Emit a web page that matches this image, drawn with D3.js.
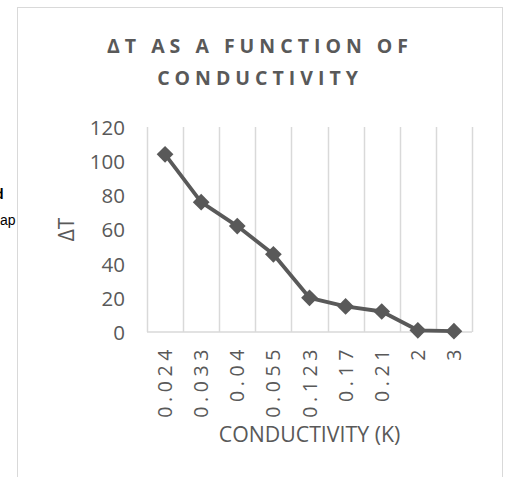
<!DOCTYPE html>
<html><head><meta charset="utf-8">
<script src="https://cdn.jsdelivr.net/npm/d3@7"></script>
<style>
html,body{margin:0;padding:0;background:#fff;}
svg{display:block;font-family:"Open Sans",sans-serif;}
</style></head>
<body>
<svg id="c" width="506" height="477"></svg>
<script>
const categories = ["0.024","0.033","0.04","0.055","0.123","0.17","0.21","2","3"];
const deltaT = [104, 76, 62, 45.5, 20, 15, 12, 1, 0.5];
const yTicks = [0, 20, 40, 60, 80, 100, 120];
const titleLines = ["\u0394T AS A FUNCTION OF", "CONDUCTIVITY"];
const xTitle = "CONDUCTIVITY (K)";
const yTitle = "\u0394T";

const svg = d3.select("#c");
const grey = "#595959", grid = "#d9d9d9";

// stray cell text behind chart
svg.append("text").attr("x", -5).attr("y", 199).attr("font-family","Liberation Sans")
  .attr("font-size", 14).attr("font-weight","bold").attr("fill","#000").text("d");
svg.append("text").attr("x", 0).attr("y", 225).attr("font-family","Liberation Sans")
  .attr("font-size", 14).attr("fill","#000").text("ap");

// chart area
svg.append("rect").attr("x", 17.5).attr("y", 7.5).attr("width", 485).attr("height", 490)
  .attr("fill", "#fff").attr("stroke", grid).attr("stroke-width", 1);

const x = d3.scaleBand().domain(categories).range([147, 472]).padding(0);
const y = d3.scaleLinear().domain([0, 120]).range([332, 127]);

// vertical gridlines at category boundaries
const bounds = categories.map(c => x(c)).concat([x.range()[1]]);
svg.append("g").selectAll("line").data(bounds).join("line")
  .attr("x1", d => Math.round(d) + 0.5).attr("x2", d => Math.round(d) + 0.5)
  .attr("y1", y(120)).attr("y2", y(0))
  .attr("stroke", grid).attr("stroke-width", 1.5);

// x axis line
svg.append("line").attr("x1", x.range()[0]).attr("x2", x.range()[1])
  .attr("y1", y(0)).attr("y2", y(0)).attr("stroke", grid).attr("stroke-width", 1.5);

// y tick labels
const yAxis = d3.axisLeft(y).tickValues(yTicks).tickSize(0).tickPadding(0);
const gy = svg.append("g").attr("transform", "translate(125,0)").call(yAxis);
gy.select(".domain").remove();
gy.selectAll("text").attr("font-family", "Open Sans").attr("font-size", 20.5)
  .attr("fill", grey).attr("dy", "0.36em");

// x tick labels (rotated)
const xAxis = d3.axisBottom(x).tickSize(0).tickPadding(0);
const gx = svg.append("g").call(xAxis);
gx.select(".domain").remove();
gx.selectAll(".tick").attr("transform", d => `translate(${x(d) + x.bandwidth()/2},0)`);
gx.selectAll("text")
  .attr("font-family", "Open Sans").attr("font-size", 19.5).attr("fill", grey)
  .attr("letter-spacing", "4.6px")
  .attr("text-anchor", "end")
  .attr("transform", "translate(7,345) rotate(-90)")
  .attr("x", 0).attr("y", 0).attr("dy", 0);

// line + markers
const line = d3.line().x((d, i) => x(categories[i]) + x.bandwidth()/2).y(d => y(d));
svg.append("path").datum(deltaT).attr("d", line).attr("fill", "none")
  .attr("stroke", grey).attr("stroke-width", 3.8).attr("stroke-linejoin", "round");
const sym = d3.symbol().type(d3.symbolSquare).size(140);
svg.append("g").selectAll("path").data(deltaT).join("path")
  .attr("d", sym)
  .attr("transform", (d, i) => `translate(${x(categories[i]) + x.bandwidth()/2},${y(d)}) rotate(45)`)
  .attr("fill", grey);

// titles
svg.append("g").selectAll("text").data(titleLines).join("text")
  .attr("x", 260).attr("y", (d, i) => 53 + i * 32)
  .attr("text-anchor", "middle").attr("font-family", "Open Sans").attr("font-weight", "bold")
  .attr("font-size", 19.5).attr("letter-spacing", "5px").attr("fill", grey)
  .text(d => d);

svg.append("text").attr("x", 309.5).attr("y", 442).attr("text-anchor", "middle")
  .attr("font-family", "Open Sans").attr("font-size", 21.3).attr("fill", grey).text(xTitle);

svg.append("text").attr("transform", `translate(74,${(y(0)+y(120))/2}) rotate(-90)`)
  .attr("text-anchor", "middle").attr("font-family", "Open Sans").attr("font-size", 21)
  .attr("fill", grey).text(yTitle);
</script>
</body></html>
